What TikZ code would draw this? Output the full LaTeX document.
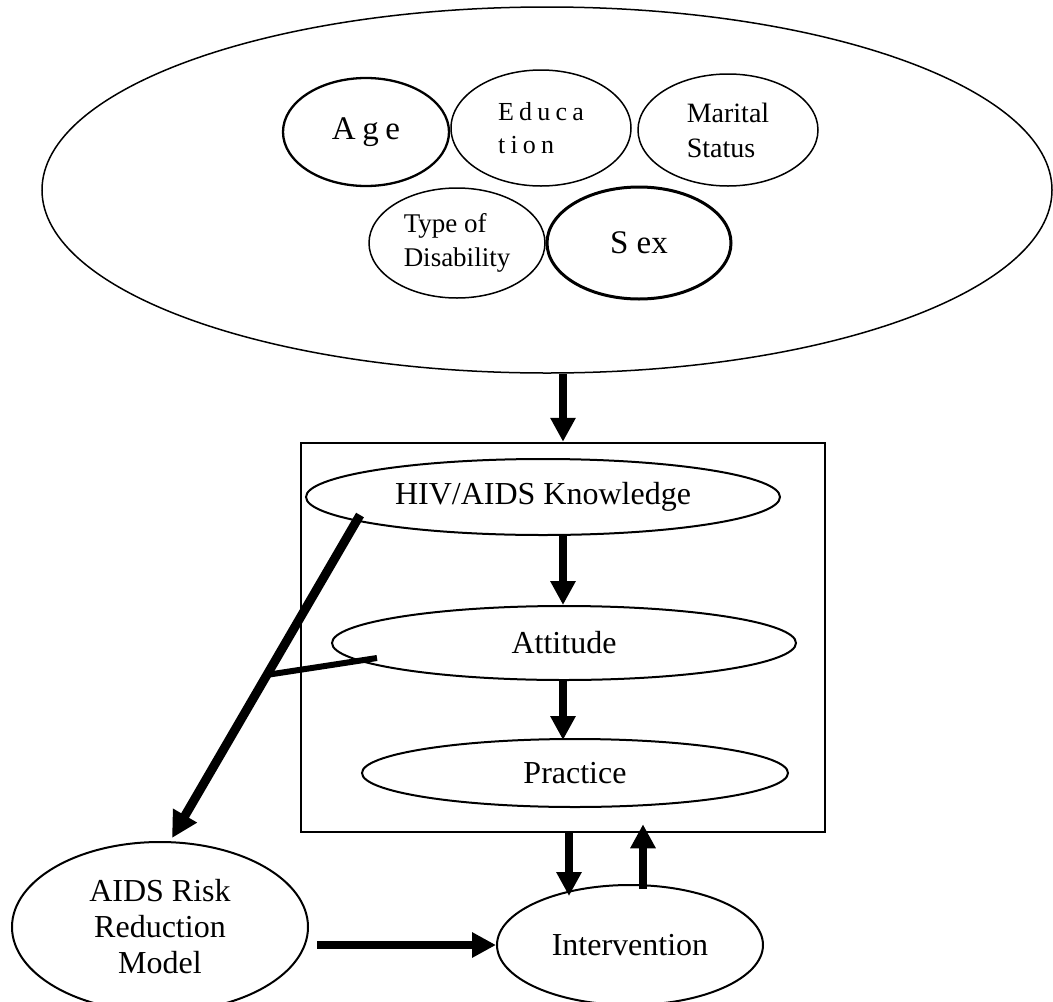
\documentclass[tikz,border=0pt]{standalone}
\usepackage{fontspec}
\setmainfont{Liberation Serif}
\usetikzlibrary{shapes.geometric,arrows.meta,calc}
\begin{document}
\begin{tikzpicture}[x=1pt,y=-1pt,
  oval/.style={ellipse,draw,inner sep=0pt,align=center},
  bigtext/.style={font=\fontsize{32}{36}\selectfont},
  arr/.style={line width=8pt,-{Triangle[width=24pt,length=24pt]}},
  bar/.style={line width=8pt}]
\clip (0,0) rectangle (1053,1002);
% outer ellipse of background factors
\node[oval,line width=1.5pt,minimum width=1010pt,minimum height=366pt] (big) at (547,190) {};
\node[oval,line width=2.3pt,minimum width=166pt,minimum height=108pt,
  font=\fontsize{33}{38}\selectfont\addfontfeature{LetterSpace=20}] (age) at (366,132) {Age};
\node[oval,line width=1.5pt,minimum width=180pt,minimum height=116pt,align=left,
  font=\fontsize{26}{33}\selectfont\addfontfeature{LetterSpace=20}] (edu) at (541,128) {Educa\\tion};
\node[oval,line width=1.5pt,minimum width=180pt,minimum height=112pt,align=left,
  font=\fontsize{28}{35}\selectfont] (mar) at (728,130) {Marital\\Status};
\node[oval,line width=1.5pt,minimum width=176pt,minimum height=110pt,align=left,
  font=\fontsize{27}{34}\selectfont] (type) at (457,243) {Type of\\Disability};
\node[oval,line width=3pt,minimum width=184pt,minimum height=112pt,
  font=\fontsize{33}{38}\selectfont] (sex) at (639,243) {S ex};
% box with KAP
\node[draw,line width=2.5pt,minimum width=524pt,minimum height=389pt,inner sep=0pt] (box) at (563,637.5) {};
\node[oval,line width=2pt,minimum width=474pt,minimum height=76pt,bigtext] (hiv) at (543,497) {HIV/AIDS Knowledge};
\node[oval,line width=2pt,minimum width=464pt,minimum height=74pt,bigtext] (att) at (564,643) {Attitude};
\node[oval,line width=2pt,minimum width=426pt,minimum height=68pt,bigtext] (prac) at (575,773) {Practice};
% bottom nodes
\node[oval,line width=2pt,minimum width=296pt,minimum height=170pt,bigtext] (aids) at (160,927) {AIDS Risk\\Reduction\\Model};
\node[oval,line width=2pt,minimum width=266pt,minimum height=120pt,bigtext] (intv) at (630,945) {Intervention};
% connectors
\draw[arr] (big.south -| box.north) -- (box.north);
\draw[arr] (hiv.south -| box.north) -- (att.north -| box.north);
\draw[arr] (att.south -| box.north) -- ([yshift=-2pt]prac.north -| box.north);
\coordinate (ks) at (360,515);
\coordinate (dt) at (172,838);
\coordinate (a1) at (377,658);
\path (ks) -- (dt) coordinate[pos=0.495] (join);
\draw[line width=9pt,-{Triangle[width=26pt,length=26pt]}] (ks) -- (dt);
\draw[line width=6pt] (a1) -- (join);
\draw[arr] ([xshift=6pt]box.south) -- ([xshift=-61pt,yshift=-12pt]intv.north);
\draw[arr] ([xshift=13pt,yshift=-5pt]intv.north) -- ([xshift=80pt,yshift=9pt]box.south);
\draw[arr] ([xshift=8pt]aids.east |- intv.west) -- (intv.west);
\end{tikzpicture}
\end{document}
